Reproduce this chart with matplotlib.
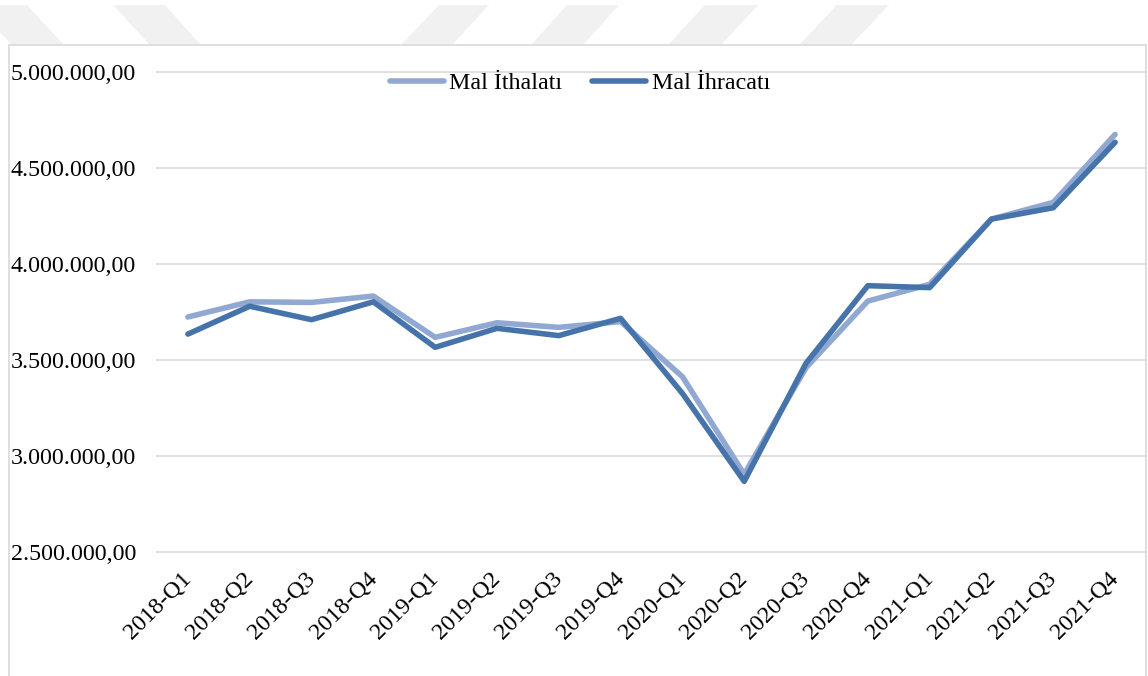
import matplotlib
matplotlib.use("Agg")
import matplotlib.pyplot as plt
from matplotlib.ticker import FuncFormatter
from matplotlib.patches import Polygon, Rectangle

plt.rcParams['font.family'] = ['Liberation Serif', 'DejaVu Serif']

quarters = ['2018-Q1', '2018-Q2', '2018-Q3', '2018-Q4',
            '2019-Q1', '2019-Q2', '2019-Q3', '2019-Q4',
            '2020-Q1', '2020-Q2', '2020-Q3', '2020-Q4',
            '2021-Q1', '2021-Q2', '2021-Q3', '2021-Q4']
ithalat = [3724000, 3803000, 3800000, 3833000,
           3618000, 3694000, 3670000, 3700000,
           3413000, 2905000, 3460000, 3807000,
           3894000, 4234000, 4321000, 4675000]
ihracat = [3635000, 3780000, 3710000, 3803000,
           3566000, 3665000, 3627000, 3717000,
           3326000, 2868000, 3483000, 3887000,
           3877000, 4234000, 4293000, 4634000]
yticks = [2500000, 3000000, 3500000, 4000000, 4500000, 5000000]

W, H = 1148, 676
fs = 17.3
fig = plt.figure(figsize=(W / 100, H / 100), dpi=100)

# faint watermark stripes above the chart box
stripes = [(-25, 27, 12, 64), (113, 165, 150, 201),
           (439, 489, 401, 452), (567, 619, 531, 583),
           (705, 758, 668, 721), (837, 889, 799, 851)]
for tl, tr, bl, br in stripes:
    pts = [(tl / W, 1 - 5 / H), (tr / W, 1 - 5 / H),
           (br / W, 1 - 45 / H), (bl / W, 1 - 45 / H)]
    fig.add_artist(Polygon(pts, closed=True, transform=fig.transFigure,
                           facecolor='#f1f1f1', edgecolor='none', zorder=-3))

# chart area border
fig.add_artist(Rectangle((9 / W, -0.05), (1146 - 9) / W, 1.05 - 45 / H,
                         transform=fig.transFigure, facecolor='white',
                         edgecolor='#d9d9d9', linewidth=1.2, zorder=-2))

ax = fig.add_axes([157 / W, (H - 552) / H, (1146 - 157) / W, 480 / H])
ax.patch.set_alpha(0)

x = range(len(quarters))
ax.plot(x, ithalat, color='#91a9d2', lw=4.0, solid_capstyle='round',
        solid_joinstyle='round', label='Mal İthalatı', zorder=3)
ax.plot(x, ihracat, color='#4674aa', lw=4.0, solid_capstyle='round',
        solid_joinstyle='round', label='Mal İhracatı', zorder=4)

for v in yticks:
    ax.axhline(v, color='#d9d9d9', lw=1.2, zorder=1, clip_on=False)

ax.set_xlim(-0.5, len(quarters) - 0.5)
ax.set_ylim(yticks[0], yticks[-1])
ax.set_yticks(yticks)
ax.yaxis.set_major_formatter(FuncFormatter(
    lambda v, p: f"{v:,.2f}".replace(',', 'X').replace('.', ',').replace('X', '.')))
ax.set_xticks(list(x))
ax.set_xticklabels(quarters, rotation=45, ha='right', va='center',
                   rotation_mode='anchor')
ax.tick_params(axis='y', length=0, pad=15, labelsize=fs)
ax.tick_params(axis='x', length=0, pad=17, labelsize=fs)
for s in ax.spines.values():
    s.set_visible(False)

ax.legend(loc='center', bbox_to_anchor=(0.4275, 0.977), ncol=2,
          frameon=False, fontsize=fs, handlelength=2.25,
          handletextpad=0.22, columnspacing=1.25, borderpad=0)

fig.savefig('out.png', dpi=100)
